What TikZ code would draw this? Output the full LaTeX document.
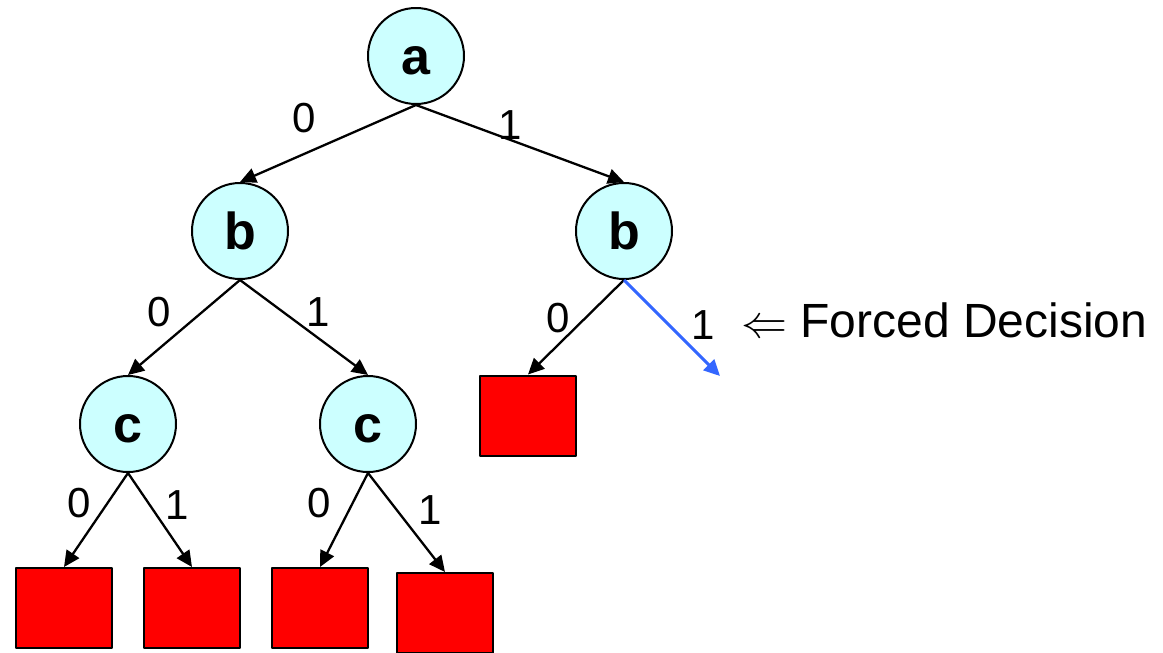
\documentclass[tikz,border=0pt]{standalone}
\usepackage{graphicx}
\usepackage{fontspec}
\setmainfont{Liberation Sans}
\usetikzlibrary{arrows.meta}
\definecolor{varcyan}{RGB}{204,255,255}
\definecolor{forceblue}{RGB}{51,102,255}
\begin{document}
\begin{tikzpicture}[x=1pt,y=-1pt,line join=round,>={Triangle[length=16pt,width=15pt]},
	var/.style={circle,draw,line width=2pt,fill=varcyan,minimum size=96pt,inner sep=0pt,
		text height=37pt,text depth=0pt,font=\fontsize{52}{60}\selectfont\bfseries},
	leaf/.style={rectangle,draw,line width=2pt,fill=red,minimum width=96pt,minimum height=80pt,inner sep=0pt},
	edge/.style={->,line width=2.3pt},
	lbl/.style={font=\fontsize{42}{50}\selectfont,inner sep=0pt}]
	\useasboundingbox (0,0) rectangle (1163,653);
	% variables
	\node[var] (a) at (416,56) {a};
	\node[var] (b1) at (240,231) {b};
	\node[var] (b2) at (624,231) {b};
	\node[var] (c1) at (128,424) {c};
	\node[var] (c2) at (368,424) {c};
	% leaves
	\node[leaf] (l1) at (64,608) {};
	\node[leaf] (l2) at (192,608) {};
	\node[leaf] (l3) at (320,608) {};
	\node[leaf] (l4) at (445,613) {};
	\node[leaf] (l5) at (528,415.5) {};
	\coordinate (f) at (720,376);
	\foreach \u/\v in {a/b1,a/b2,b1/c1,b1/c2,c1/l1,c1/l2,c2/l3,c2/l4,b2/l5}
	\draw[edge] (\u.south)--(\v.north);
	\draw[edge,forceblue,line width=3pt] (b2.south)--(f);
	% branch labels
	\foreach \n/\x/\y/\t in {la0/304/118/0,la1/510/125/1,lb0/159/312/0,lb1/318/312/1,lc0/79/503/0,lc1/177/505/1,ld0/319/503/0,ld1/430/510/1,le0/558/318/0,le1/703/325/1}
	\node[lbl] (\n) at (\x,\y) {\t};
	\node[anchor=base west,inner sep=0pt,font=\fontsize{48}{56}\selectfont] (forced) at (741,337) {{\normalsize\scalebox{4.6}{$\Leftarrow$}} Forced Decision};
\end{tikzpicture}
\end{document}
